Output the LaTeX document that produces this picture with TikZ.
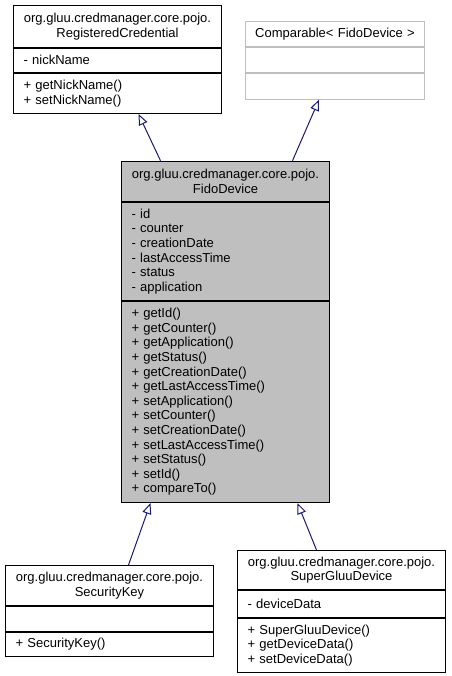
\documentclass[tikz,border=0pt]{standalone}
\usepackage{fontspec}
\setmainfont{Liberation Sans}
\usetikzlibrary{positioning,arrows.meta}
\definecolor{edgeblue}{RGB}{25,25,112}
\definecolor{fidogray}{RGB}{191,191,191}
\definecolor{bordergray}{RGB}{191,191,191}

\begin{document}
\begin{tikzpicture}[x=1pt,y=-1pt]
	\tikzset{>={Triangle[open,length=11pt,width=9pt]}}
	\tikzset{
		part/.style={draw=black, line width=1pt, inner xsep=10pt, inner ysep=0pt,
			text width=188pt, font=\fontsize{13}{14.6}\selectfont, minimum height=#1},
		head/.style={part=#1, align=center},
		body/.style={part=#1, align=left},
		iface/.style={draw=bordergray, inner xsep=4pt, text width=171pt},
		inherit/.style={->, draw=edgeblue, line width=1pt},
	}
	\useasboundingbox (0,0) rectangle (451,676);

	% RegisteredCredential
	\node[head=41.7pt, anchor=north west] (regTitle) at (13,5)
		{org.gluu.credmanager.core.pojo.\\RegisteredCredential};
	\node[body=24.3pt, below=0pt of regTitle] (regAttr) {- nickName};
	\node[body=40pt, below=0pt of regAttr] (regOps) {+ getNickName()\\+ setNickName()};

	% Comparable
	\node[head=25pt, iface, anchor=north west] (cmpTitle) at (245,20.7)
		{Comparable< FidoDevice >};
	\node[body=25.3pt, iface, below=0pt of cmpTitle] (cmpAttr) {};
	\node[body=25.7pt, iface, below=0pt of cmpAttr] (cmpOps) {};

	% FidoDevice
	\node[head=40.3pt, fill=fidogray, anchor=north west] (fidoTitle) at (121,160.7)
		{org.gluu.credmanager.core.pojo.\\FidoDevice};
	\node[body=98pt, fill=fidogray, below=0pt of fidoTitle] (fidoAttr)
		{- id\\- counter\\- creationDate\\- lastAccessTime\\- status\\- application};
	\node[body=201pt, fill=fidogray, below=0pt of fidoAttr] (fidoOps)
		{+ getId()\\+ getCounter()\\+ getApplication()\\+ getStatus()\\+ getCreationDate()\\
		+ getLastAccessTime()\\+ setApplication()\\+ setCounter()\\+ setCreationDate()\\
		+ setLastAccessTime()\\+ setStatus()\\+ setId()\\+ compareTo()};

	% SecurityKey
	\node[head=40pt, anchor=north west] (keyTitle) at (5,565)
		{org.gluu.credmanager.core.pojo.\\SecurityKey};
	\node[body=25pt, below=0pt of keyTitle] (keyAttr) {};
	\node[body=24pt, below=0pt of keyAttr] (keyOps) {+ SecurityKey()};

	% SuperGluuDevice
	\node[head=39pt, anchor=north west] (gluuTitle) at (237,550)
		{org.gluu.credmanager.core.pojo.\\SuperGluuDevice};
	\node[body=27pt, below=0pt of gluuTitle] (gluuAttr) {- deviceData};
	\node[body=54pt, below=0pt of gluuAttr] (gluuOps)
		{+ SuperGluuDevice()\\+ getDeviceData()\\+ setDeviceData()};

	\draw[inherit] ([xshift=-65pt]fidoTitle.north) -- ([xshift=21pt]regOps.south);
	\draw[inherit] ([xshift=67pt]fidoTitle.north) -- ([xshift=-16pt]cmpOps.south);
	\draw[inherit] ([xshift=19pt]keyTitle.north) -- ([xshift=-75pt]fidoOps.south);
	\draw[inherit] ([xshift=-25pt]gluuTitle.north) -- ([xshift=72pt]fidoOps.south);

\end{tikzpicture}
\end{document}
